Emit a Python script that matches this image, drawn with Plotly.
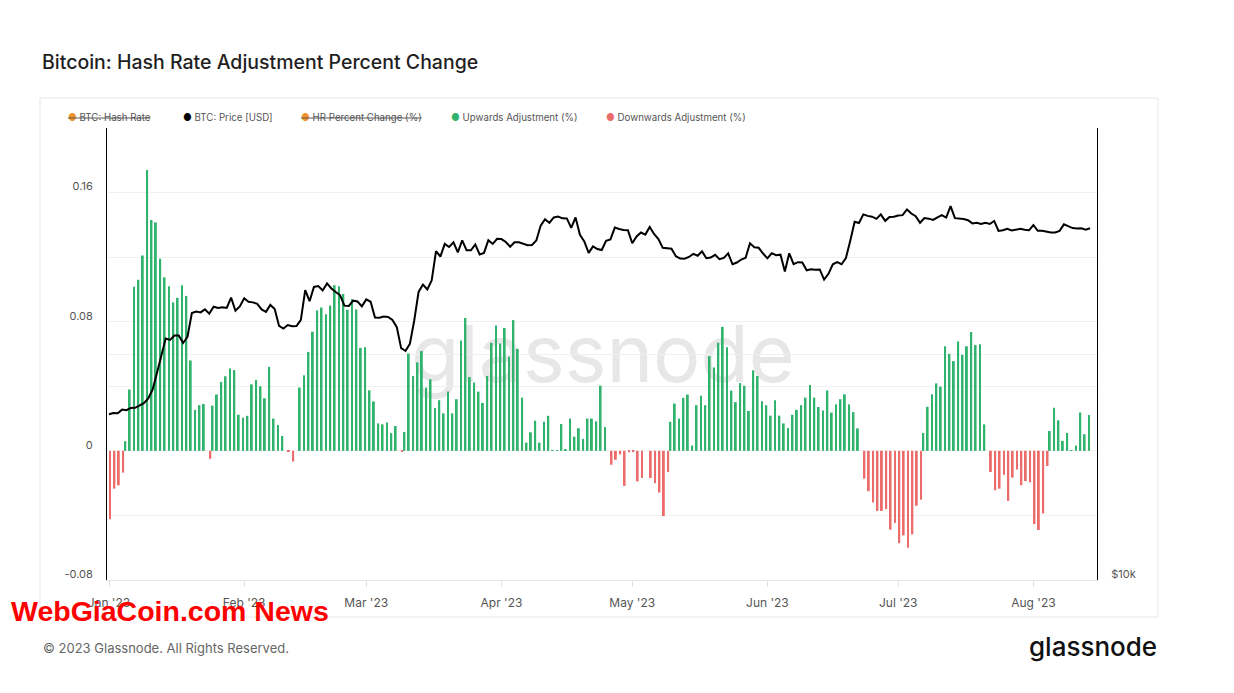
import pandas as pd
import numpy as np
import plotly.graph_objects as go

# ---------------- data ----------------
dates = pd.date_range("2023-01-01", "2023-08-14", freq="D")

price_jan = [16625, 16688, 16680, 16863, 16836, 16951, 16955, 17091, 17196, 17446, 17934, 18869, 19909, 20976, 20880,
             21169, 21161, 20688, 21086, 22676, 22777, 22720, 22934, 22636, 23117, 23032, 23078, 23031, 23774, 22840, 23139]
price_feb = [23723, 23471, 23431, 23327, 22932, 22762, 23249, 22963, 21796, 21625, 21862, 21784, 21786, 22203,
             24327, 23517, 24569, 24631, 24307, 24838, 24451, 24188, 23947, 23198, 23175, 23555, 23493, 23148]
price_mar = [23647, 23476, 22362, 22354, 22430, 22410, 22197, 21718, 20363, 20187, 20633, 22163, 24197, 24746, 24376,
             25053, 27423, 26966, 28039, 27768, 28176, 27307, 28334, 27494, 27494, 27991, 27140, 27268, 28348, 28033, 28478]
price_apr = [28452, 28198, 27790, 28168, 28176, 28044, 27926, 27947, 28335, 29653, 30235, 29895, 30400, 30490, 30318,
             30315, 29445, 30397, 28823, 28245, 27276, 27817, 27591, 27514, 28307, 28423, 29474, 29340, 29249, 29233]
price_may = [28091, 28680, 29031, 28847, 29534, 28904, 28454, 27695, 27655, 27622, 27000, 26805, 26785, 26931, 27185,
             27031, 27400, 26832, 26890, 27113, 26750, 26851, 27226, 26334, 26476, 26720, 26868, 28085, 27745, 27702, 27220]
price_jun = [26820, 27250, 27075, 27120, 25760, 27240, 26346, 26508, 26480, 25850, 25940, 25903, 25920, 25125, 25577,
             26330, 26510, 26340, 26845, 28310, 30005, 29890, 30690, 30548, 30475, 30270, 30690, 30086, 30446, 30477]
price_jul = [30590, 30620, 31156, 30767, 30514, 29910, 30346, 30292, 30172, 30414, 30620, 30392, 31476, 30334, 30296,
             30250, 30145, 29856, 29913, 29793, 29909, 29800, 30083, 29177, 29227, 29354, 29210, 29313, 29357, 29276, 29230]
price_aug = [29705, 29186, 29194, 29094, 29042, 29041, 29180, 29766, 29564, 29430, 29398, 29412, 29284, 29408]

N = None
up_jan = [N] * 4 + [0.006, 0.038, 0.1017, 0.106, 0.121, 0.174, 0.143, 0.1415, 0.119, 0.1075, 0.102, 0.092, 0.0948,
                    0.1026, 0.096, 0.056, 0.0254, 0.0283, 0.029] + [N] + [0.028, 0.0349, 0.0427, 0.0462, 0.051, 0.050, 0.0224]
up_feb = [0.0205, 0.0217, 0.0412, 0.044, 0.040, 0.0326, 0.052, 0.020, 0.016, 0.0092, N, N, N, 0.0392, 0.0468, 0.0613,
          0.0738, 0.087, 0.0888, 0.0847, 0.090, 0.1026, 0.102, 0.0972, 0.0874, 0.094, 0.0876, 0.0638]
up_mar = [0.0642, 0.0375, 0.0306, 0.017, 0.0164, 0.0176, 0.011, 0.0154, N, 0.0117, 0.0603, 0.0464, 0.0548, 0.0618,
          0.0392, 0.0443, 0.0265, 0.0314, 0.0232, 0.0367, 0.0232, 0.032, 0.0683, 0.0823, 0.0457, 0.0423, 0.0367, 0.0297,
          0.0464, 0.0669, 0.0777]
up_apr = [0.0665, 0.0761, 0.0583, 0.081, 0.0632, 0.033, 0.0051, 0.0115, 0.0187, 0.0051, 0.018, 0.0217, 0.0004, 0.0004,
          0.0166, 0.0008, 0.020, 0.0088, 0.014, 0.0074, 0.020, 0.020, 0.0183, 0.0404, 0.0148] + [N] * 5
up_may = [N] * 9 + [0.018, 0.0293, 0.020, 0.0328, 0.0349, 0.0033, 0.0283, 0.0342, 0.0283, 0.0587, 0.0516, 0.067, 0.0768,
                    0.0642, 0.0373, 0.0302, 0.042, 0.0403, 0.0247, 0.0499, 0.0464, 0.0308]
up_jun = [0.0283, 0.0218, 0.0314, 0.0218, 0.017, 0.0141, 0.0224, 0.0254, 0.0283, 0.033, 0.0408, 0.033, 0.0272, 0.025,
          0.0374, 0.0237, 0.0288, 0.032, 0.035, 0.0288, 0.024, 0.0139] + [N] * 8
up_jul = [N] * 6 + [0.0111, 0.0273, 0.0351, 0.0418, 0.0398, 0.0648, 0.0601, 0.0556, 0.0678, 0.0595, 0.0648, 0.0736,
                    0.0656, 0.066, 0.0164] + [N] * 10
up_aug = [N] * 4 + [0.0123, 0.0267, 0.0189, 0.0062, 0.0111, 0.0004, 0.0033, 0.0238, 0.0103, 0.0222]

down_jan = [-0.0423, -0.0234, -0.0213, -0.0135] + [N] * 19 + [-0.0049] + [N] * 7
down_feb = [N] * 10 + [-0.0005, -0.0066] + [N] * 16
down_mar = [N] * 8 + [-0.0004] + [N] * 22
down_apr = [N] * 25 + [-0.0086, -0.0055, -0.0022, -0.0217, -0.0008]
down_may = [-0.0008, -0.0189, -0.0168, N, -0.0168, -0.020, -0.0258, -0.0404, -0.0131] + [N] * 22
down_jun = [N] * 22 + [-0.0172, -0.025, -0.032, -0.0372, -0.0372, -0.0361, -0.0488, -0.0447]
down_jul = [-0.0572, -0.0524, -0.060, -0.0517, -0.034, -0.0302] + [N] * 15 + \
           [-0.0131, -0.0244, -0.0234, -0.0148, -0.031, -0.0166, -0.0115, -0.0213, -0.0187, -0.0195]
down_aug = [-0.0453, -0.049, -0.0388, -0.0094] + [N] * 10

price = price_jan + price_feb + price_mar + price_apr + price_may + price_jun + price_jul + price_aug
up = up_jan + up_feb + up_mar + up_apr + up_may + up_jun + up_jul + up_aug
down = down_jan + down_feb + down_mar + down_apr + down_may + down_jun + down_jul + down_aug

y_tickvals = [-0.08, -0.04, 0, 0.04, 0.08, 0.12, 0.16, 0.2]
y_ticktext = ["-0.08", "", "0", "", "0.08", "", "0.16", ""]
y2_tickvals = [10000, 20000, 40000]
y2_ticktext = ["$10k", "", ""]

legend_items = [
    ("BTC: Hash Rate", "#f0932b", True, 66),
    ("BTC: Price [USD]", "#000000", False, 181),
    ("HR Percent Change (%)", "#f0932b", True, 299),
    ("Upwards Adjustment (%)", "#2fb36d", False, 449),
    ("Downwards Adjustment (%)", "#ec6b6b", False, 604),
]

# ---------------- layout helpers ----------------
W, H = 1234, 693
L, R, T, B = 107, 1097, 128, 580


def px(x):
    return (x - L) / (R - L)


def py(y):
    return (B - y) / (B - T)


GREEN = "#2fb36d"
RED = "#ec6b6b"
FONT = "Inter, Roboto, sans-serif"

fig = go.Figure()
fig.add_trace(go.Bar(x=dates, y=up, marker=dict(color=GREEN, line=dict(width=0)), name="Upwards Adjustment (%)"))
fig.add_trace(go.Bar(x=dates, y=down, marker=dict(color=RED, line=dict(width=0)), name="Downwards Adjustment (%)"))
fig.add_trace(go.Scatter(x=dates, y=price, yaxis="y2", mode="lines", line=dict(color="#000000", width=2),
                         name="BTC: Price [USD]"))

annotations = [
    dict(text="Bitcoin: Hash Rate Adjustment Percent Change", x=px(40), y=py(62), xref="paper", yref="paper",
         xanchor="left", yanchor="middle", showarrow=False,
         font=dict(family=FONT, size=19.5, color="#1f1f1f", weight=500)),
    dict(text="© 2023 Glassnode. All Rights Reserved.", x=px(41), y=py(648), xref="paper", yref="paper",
         xanchor="left", yanchor="middle", showarrow=False, font=dict(family=FONT, size=13, color="#666666")),
    dict(text="glassnode", x=px(1159), y=py(646), xref="paper", yref="paper",
         xanchor="right", yanchor="middle", showarrow=False,
         font=dict(family=FONT, size=26, color="#111111", weight=500)),
    dict(text="<b>WebGiaCoin.com News</b>", x=px(9), y=py(611), xref="paper", yref="paper",
         xanchor="left", yanchor="middle", showarrow=False,
         font=dict(family="Liberation Sans, Arial", size=28.5, color="#ff0000")),
]
for label, col, struck, x0 in legend_items:
    dot = f"<span style='color:{col}'>●</span>"
    txt = f"{dot} {label}"
    if struck:
        txt = f"<s>{txt}</s>"
    annotations.append(dict(text=txt, x=px(x0), y=py(117), xref="paper", yref="paper", xanchor="left",
                            yanchor="middle", showarrow=False, font=dict(family=FONT, size=9.7, color="#555555")))

shapes = [
    dict(type="rect", xref="paper", yref="paper", x0=px(40), x1=px(1158), y0=py(617), y1=py(98),
         line=dict(color="#e6e6e6", width=1), fillcolor="rgba(0,0,0,0)", layer="below"),
    dict(type="rect", xref="paper", yref="paper", x0=px(400), x1=px(806), y0=py(396), y1=py(306),
         line=dict(width=0), fillcolor="rgba(0,0,0,0)", layer="below",
         label=dict(text="glassnode", font=dict(family=FONT, size=79, color="#e7e7e7"),
                    textposition="middle center")),
]

fig.update_layout(
    width=W, height=H,
    margin=dict(l=L, r=W - R, t=T, b=H - B, pad=0),
    paper_bgcolor="white", plot_bgcolor="white",
    barmode="group", bargap=0.0, bargroupgap=0.15,
    showlegend=False,
    font=dict(family=FONT, color="#555555"),
    annotations=annotations,
    shapes=shapes,
    xaxis=dict(type="date", range=["2022-12-31 13:00", "2023-08-15 14:00"], dtick="M1", tick0="2023-01-01",
               tickformat="%b '%y", showgrid=False, ticks="outside", ticklen=6, tickcolor="#e0e0e0",
               showline=True, linecolor="#e6e6e6", linewidth=1, zeroline=False, ticklabelstandoff=6,
               tickfont=dict(family=FONT, size=12, color="#555555")),
    yaxis=dict(range=[-0.08, 0.2], tickvals=y_tickvals, ticktext=y_ticktext, showgrid=True, gridcolor="#f0f0f0",
               zeroline=False, showline=True, linecolor="#000000", linewidth=1, ticks="",
               ticklabelstandoff=11, ticklabelshift=-6,
               tickfont=dict(family=FONT, size=11, color="#555555")),
    yaxis2=dict(type="log", range=[4, np.log10(40000)], overlaying="y", side="right", tickvals=y2_tickvals,
                ticktext=y2_ticktext, showgrid=True, gridcolor="#f0f0f0", zeroline=False, showline=True,
                linecolor="#000000", linewidth=1, ticks="", ticklabelstandoff=11, ticklabelshift=-6,
                tickfont=dict(family=FONT, size=11, color="#555555")),
)

fig.write_html("out.html")
